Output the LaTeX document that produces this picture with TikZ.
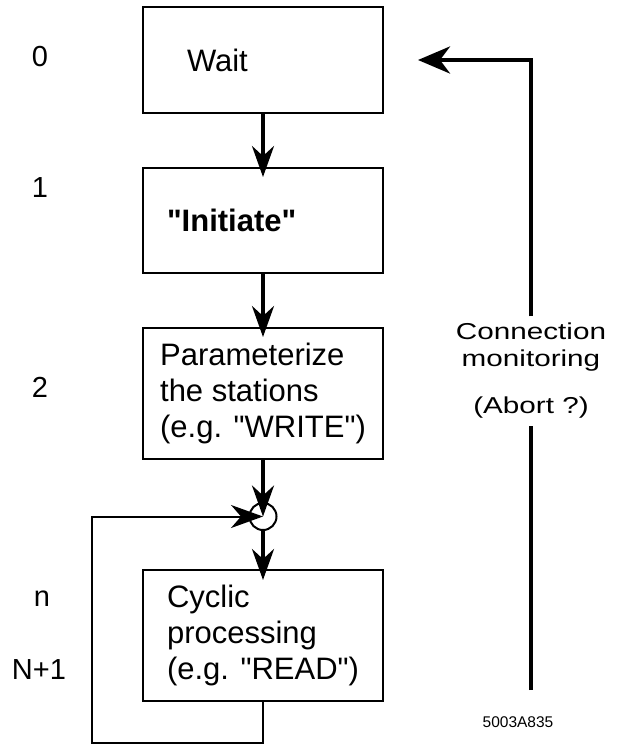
\documentclass[tikz,border=0pt]{standalone}
\usepackage{fontspec}
\setmainfont{Liberation Sans}[Ligatures=TeXOff]
\usetikzlibrary{arrows.meta,positioning}

\begin{document}
\begin{tikzpicture}[x=1pt,y=-1pt,
  box/.style={draw,line width=2pt,minimum width=240pt,align=left,font=\fontsize{31pt}{36pt}\selectfont},
  num/.style={font=\fontsize{29pt}{34pt}\selectfont},
  flow/.style={line width=3.5pt,-{Stealth[length=31pt,width=22pt,inset=10pt]}},
  loopline/.style={line width=2pt,-{Stealth[length=32pt,width=23pt,inset=10pt]}}]
  \useasboundingbox (0,0) rectangle (617,747);
  \node[box,minimum height=106pt,text width=152pt,inner xsep=44pt] (wait) at (263,60) {Wait};
  \node[box,minimum height=105pt,text width=192pt,inner xsep=24pt,below=53pt of wait] (init) {\textbf{"Initiate"}};
  \node[box,minimum height=131pt,below=53pt of init] (param) {Parameterize\\the stations\\(e.g. "WRITE")};
  \node[draw,circle,line width=2pt,minimum size=27pt,inner sep=0pt,below=42pt of param] (circ) {};
  \node[box,minimum height=131pt,below=38pt of circ] (cyc) {Cyclic\\processing\\(e.g. "READ")};
  \node[num] (s0) at (40,57) {0};
  \node[num] (s1) at (40,188) {1};
  \node[num] (s2) at (40,387) {2};
  \node[num] (sn) at (42,599) {n};
  \node[num] (sN) at (39,670) {N+1};
  \node[inner sep=4pt] (mon) at (531,371) {\scalebox{1.29}[1]{\fontsize{23pt}{27pt}\selectfont\begin{tabular}{@{}c@{}}Connection\\monitoring\\[20pt](Abort ?)\end{tabular}}};
  \node[font=\fontsize{15.5pt}{18pt}\selectfont] (code) at (518,722) {5003A835};
  \draw[flow,shorten >=-10pt] (wait.south) -- (init.north);
  \draw[flow,shorten >=-10pt] (init.south) -- (param.north);
  \draw[flow] (param.south) -- (circ.center);
  \draw[flow,shorten >=-11pt] (circ.south) -- (cyc.north);
  \coordinate (back) at (92,743);
  \draw[loopline] (cyc.south) |- (back) |- (circ.center);
  \coordinate (monend) at (531,690);
  \draw[line width=4.5pt] (monend) -- (mon.south);
  \draw[line width=4.5pt,-{Stealth[length=32pt,width=27pt,inset=10pt]},shorten >=34pt] (mon.north) |- (wait.east);
\end{tikzpicture}
\end{document}
